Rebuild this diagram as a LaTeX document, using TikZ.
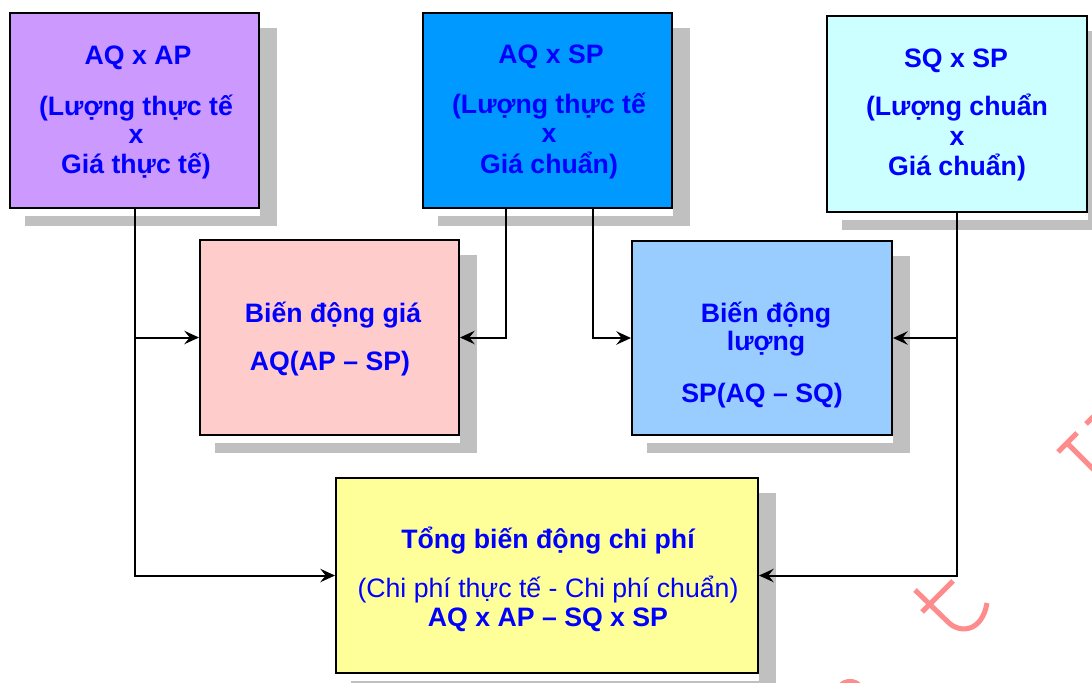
\documentclass[tikz,border=0pt]{standalone}
\usepackage{fontspec}
\setmainfont{Liberation Sans}
\usetikzlibrary{calc,fit,arrows.meta,backgrounds}

\definecolor{cPurple}{HTML}{CC99FF}
\definecolor{cBlue}{HTML}{0099FF}
\definecolor{cCyan}{HTML}{CCFFFF}
\definecolor{cPink}{HTML}{FFCCCC}
\definecolor{cSky}{HTML}{99CCFF}
\definecolor{cYellow}{HTML}{FFFF99}
\definecolor{cShadow}{HTML}{C0C0C0}
\definecolor{cText}{HTML}{0000FF}
\definecolor{cMark}{HTML}{FF8C8C}

\tikzset{
  box/.style={draw=black, line width=1.5pt, inner sep=0pt},
  lbl/.style={anchor=base, text=cText, font=\fontsize{20}{24}\selectfont\bfseries, inner sep=0pt},
  lblr/.style={lbl, font=\fontsize{20}{24}\selectfont},
  conn/.style={draw=black, line width=1.5pt, -{Stealth[length=11pt,width=10pt,inset=4pt]}},
  stampline/.style={draw=cMark, line width=3.8pt},
}

\begin{document}
\begin{tikzpicture}[x=0.75pt, y=-0.75pt]
\useasboundingbox (0,0) rectangle (1092,682);

% boxes
\node[box, fill=cPurple, fit={(10,13) (259,208)}]   (b1) {};
\node[box, fill=cBlue,   fit={(423,13) (672,208)}]  (b2) {};
\node[box, fill=cCyan,   fit={(827,16) (1087,212)}] (b3) {};
\node[box, fill=cPink,   fit={(200,240) (459,435)}] (b4) {};
\node[box, fill=cSky,    fit={(632,241) (892,435)}] (b5) {};
\node[box, fill=cYellow, fit={(336,478) (758,673)}] (b6) {};

% drop shadows
\begin{scope}[on background layer]
  \foreach \b in {b1,b2,b3,b4,b5,b6} {
    \fill[cShadow] ($(\b.north west)+(16,16)$) rectangle ($(\b.south east)+(17,17)$);
    \fill[white] ($(\b.south west)+(16,0)$) rectangle ($(\b.south east)+(0,7)$);
  }
\end{scope}

% texts
\node[lbl] (t1a) at (138,64)  {AQ x AP};
\node[lbl] (t1b) at (136,115) {(Lượng thực tế};
\node[lbl] (t1c) at (136,143) {x};
\node[lbl] (t1d) at (136,173) {Giá thực tế)};

\node[lbl] (t2a) at (551,63)  {AQ x SP};
\node[lbl] (t2b) at (549,113) {(Lượng thực tế};
\node[lbl] (t2c) at (549,142) {x};
\node[lbl] (t2d) at (549,173) {Giá chuẩn)};

\node[lbl] (t3a) at (956,67)  {SQ x SP};
\node[lbl] (t3b) at (957,115) {(Lượng chuẩn};
\node[lbl] (t3c) at (957,145) {x};
\node[lbl] (t3d) at (957,175) {Giá chuẩn)};

\node[lbl] (t4a) at (333,322) {Biến động giá};
\node[lbl] (t4b) at (330,370) {AQ(AP – SP)};

\node[lbl] (t5a) at (766,322) {Biến động};
\node[lbl] (t5b) at (766,350) {lượng};
\node[lbl] (t5c) at (762,402) {SP(AQ – SQ)};

\node[lbl]  (t6a) at (548,548) {Tổng biến động chi phí};
\node[lblr] (t6b) at (548,597) {(Chi phí thực tế - Chi phí chuẩn)};
\node[lbl]  (t6c) at (548,626) {AQ x AP – SQ x SP};

% connectors
\coordinate (b2l) at ($(b2.south)+(-41.5,0)$);
\coordinate (b2r) at ($(b2.south)+(45.5,0)$);
\draw[conn] (b1.south) |- (b6.west);
\draw[conn] (b1.south |- b4.west) -- (b4.west);
\draw[conn] (b2l) |- (b4.east);
\draw[conn] (b2r) |- (b5.west);
\draw[conn] (b3.south) |- (b6.east);
\draw[conn] (b3.south |- b5.east) -- (b5.east);

% stamp strokes
\draw[stampline] (915,590) -- (948,622) .. controls (960,634) and (982,632) .. (987,603);
\draw[stampline] (922,612) -- (953,581);
\draw[stampline] (1058,452) -- (1077,433);
\draw[stampline] (1067,443) -- (1094,470);
\draw[stampline] (1086,424) -- (1094,416);
\draw[stampline] (840,686) .. controls (845,680) and (855,680) .. (860,686);
\end{tikzpicture}
\end{document}
